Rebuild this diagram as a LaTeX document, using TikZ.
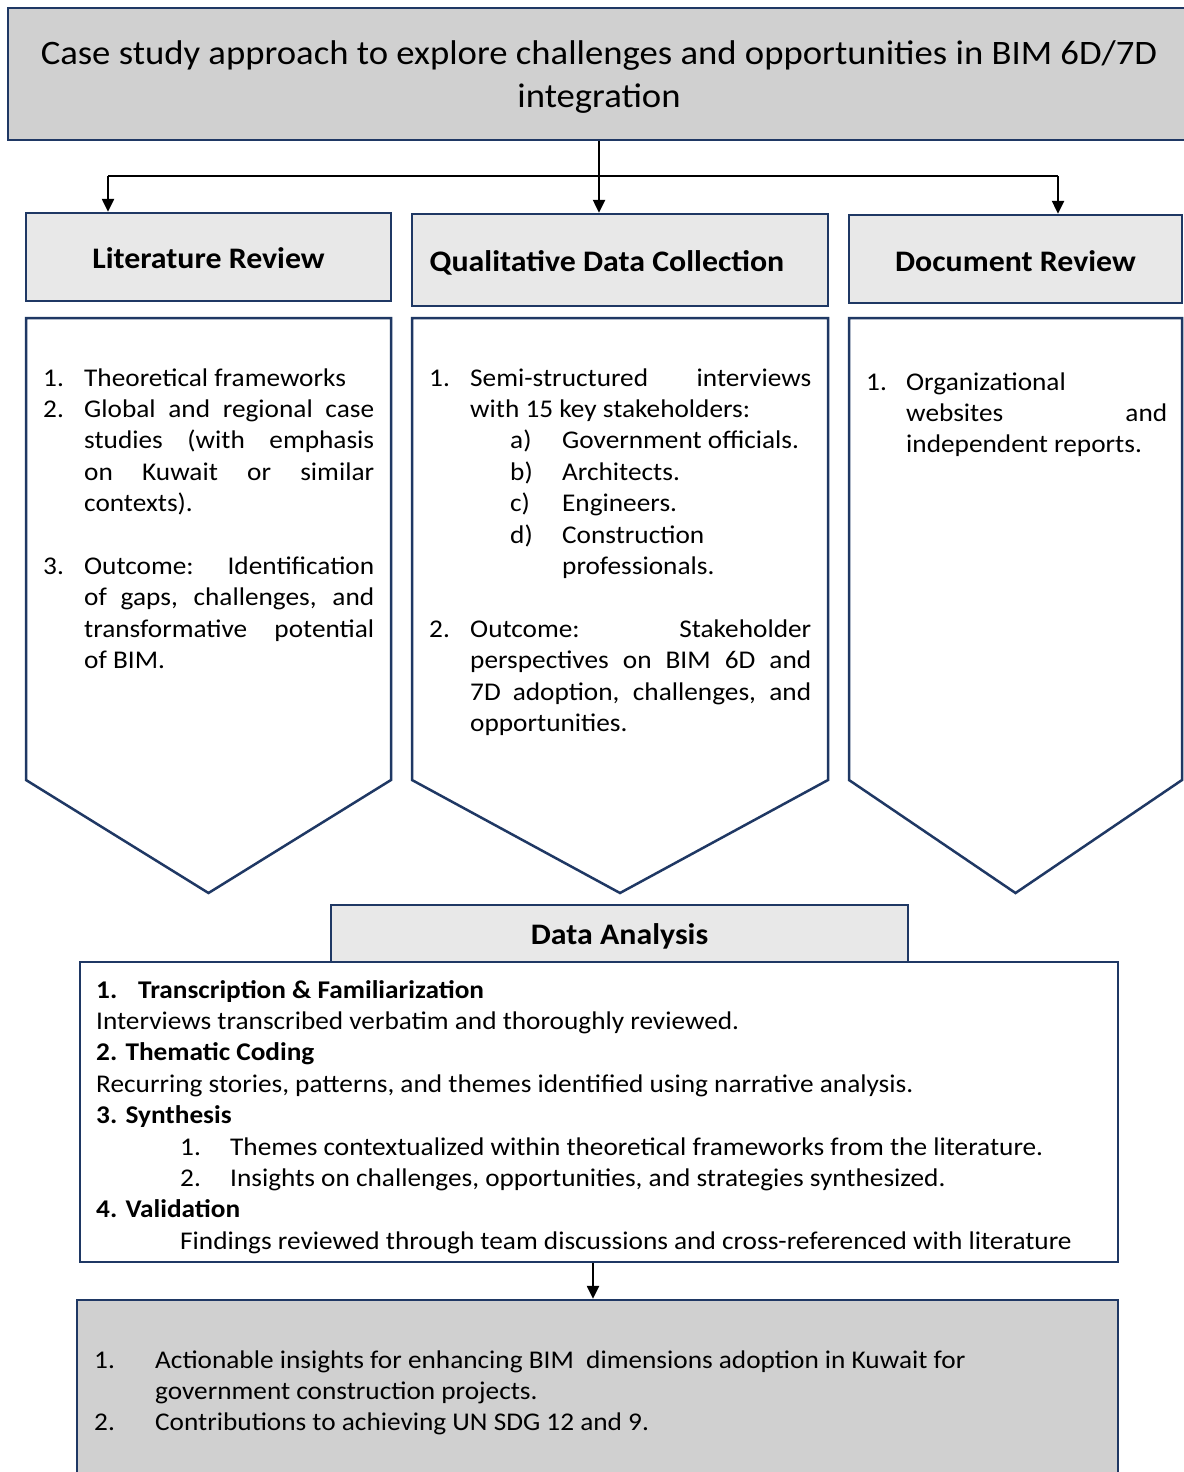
\documentclass[tikz,border=0pt]{standalone}
\usepackage{fontspec}
\setmainfont{Carlito}[FakeStretch=1.07]
\usetikzlibrary{arrows.meta}
\definecolor{navy}{HTML}{1F3864}
\definecolor{dgray}{HTML}{D0D0D0}
\definecolor{lgray}{HTML}{E8E8E8}
\newcommand\bodyfont{\fontsize{25.5}{31.4}\selectfont}
\newcommand\hdrfont{\fontsize{29.8}{36}\selectfont\bfseries}
\newcommand\ttlfont{\fontsize{34.3}{43}\selectfont}
\newcommand\dropby[2]{\raisebox{-#1}[\height][\depth]{#2}}
% numbered line: #1 number width, #2 number, #3 text width, #4 l or s, #5 text
\newcommand\NL[5]{\noindent\makebox[#1][l]{#2}\makebox[#3][#4]{#5}\par}
\newcommand\BL{\noindent\mbox{}\par}
\tikzset{
  frame/.style={draw=navy, line width=2.5pt},
  hdr/.style={frame, fill=lgray, inner sep=0pt, font=\hdrfont, text=black},
  conn/.style={line width=2.5pt, black},
  arr/.style={conn, -{Triangle[length=13pt,width=12pt]}},
  txt/.style={anchor=base west, inner sep=0pt, text=black}
}
\begin{document}
\begin{tikzpicture}[x=1pt,y=-1pt]
\useasboundingbox (0,0) rectangle (1183,1472);
\fill[white] (0,0) rectangle (1183,1472);

% title
\node[frame, fill=dgray, minimum width=1182pt, minimum height=132pt, inner sep=0pt, align=center, font=\ttlfont] (title) at (599,74)
  {\dropby{3pt}{Case study approach to explore challenges and opportunities in BIM 6D/7D}\\\dropby{3pt}{integration}};

% headers
\node[hdr, minimum width=365pt, minimum height=88pt] (lith) at (208.5,257) {\dropby{1.5pt}{Literature Review}};
\node[hdr, minimum width=416pt, minimum height=92pt] (qualh) at (620,260) {\dropby{2.5pt}{Qualitative Data Collection}\hspace*{26pt}};
\node[hdr, minimum width=333pt, minimum height=88pt] (doch) at (1015.5,259) {\dropby{2.5pt}{Document Review}};

% connectors
\coordinate (jl) at (108,176);
\coordinate (jr) at (1058,176);
\draw[conn] (title.south) -- (title.south |- jl);
\draw[conn] (jl) -- (jr);
\draw[arr] (jl) -- (jl |- lith.north);
\draw[arr] (title.south |- jl) -- (title.south |- qualh.north);
\draw[arr] (jr) -- (jr |- doch.north);

% pentagon boxes
\draw[frame, line join=miter] (26,318) coordinate (litp) -- (391,318) -- (391,780) -- (208.5,893) -- (26,780) -- cycle;
\draw[frame, line join=miter] (412,318) coordinate (qualp) -- (828,318) -- (828,780) -- (620,893) -- (412,780) -- cycle;
\draw[frame, line join=miter] (849,318) coordinate (docp) -- (1182,318) -- (1182,780) -- (1015.5,893) -- (849,780) -- cycle;

% column texts
\node[txt] (littxt) at (43,386) {\begin{minipage}[t]{331pt}\bodyfont
\NL{41pt}{1.}{290pt}{l}{Theoretical frameworks}
\NL{41pt}{2.}{290pt}{s}{Global and regional case}
\NL{41pt}{}{290pt}{s}{studies (with emphasis}
\NL{41pt}{}{290pt}{s}{on Kuwait or similar}
\NL{41pt}{}{290pt}{l}{contexts).}
\BL
\NL{41pt}{3.}{290pt}{s}{Outcome: Identification}
\NL{41pt}{}{290pt}{s}{of gaps, challenges, and}
\NL{41pt}{}{290pt}{s}{transformative potential}
\NL{41pt}{}{290pt}{l}{of BIM.}
\end{minipage}};

\node[txt] (qualtxt) at (429,386) {\begin{minipage}[t]{382pt}\bodyfont
\NL{41pt}{1.}{341pt}{s}{Semi-structured interviews}
\NL{41pt}{}{341pt}{l}{with 15 key stakeholders:}
\NL{133pt}{\hspace*{81pt}a)}{249pt}{l}{Government officials.}
\NL{133pt}{\hspace*{81pt}b)}{249pt}{l}{Architects.}
\NL{133pt}{\hspace*{81pt}c)}{249pt}{l}{Engineers.}
\NL{133pt}{\hspace*{81pt}d)}{249pt}{l}{Construction}
\NL{133pt}{}{249pt}{l}{professionals.}
\BL
\NL{41pt}{2.}{341pt}{s}{Outcome: Stakeholder}
\NL{41pt}{}{341pt}{s}{perspectives on BIM 6D and}
\NL{41pt}{}{341pt}{s}{7D adoption, challenges, and}
\NL{41pt}{}{341pt}{l}{opportunities.}
\end{minipage}};

\node[txt] (doctxt) at (866,390) {\begin{minipage}[t]{301pt}\bodyfont
\NL{40pt}{1.}{261pt}{l}{Organizational}
\NL{40pt}{}{261pt}{s}{websites and}
\NL{40pt}{}{261pt}{l}{independent reports.}
\end{minipage}};

% data analysis
\node[frame, fill=white, minimum width=1038pt, minimum height=300pt, inner sep=0pt] (dabox) at (599,1112) {};
\node[hdr, minimum width=577pt, minimum height=57pt] (dah) at (619.5,933.5) {\dropby{3pt}{Data Analysis}};
\node[txt] (datxt) at (96,998) {\begin{minipage}[t]{1010pt}\bodyfont
\NL{42pt}{\bfseries 1.}{900pt}{l}{\bfseries Transcription \& Familiarization}
\NL{0pt}{}{1000pt}{l}{Interviews transcribed verbatim and thoroughly reviewed.}
\NL{0pt}{}{1000pt}{l}{\bfseries 2. Thematic Coding}
\NL{0pt}{}{1000pt}{l}{Recurring stories, patterns, and themes identified using narrative analysis.}
\NL{0pt}{}{1000pt}{l}{\bfseries 3. Synthesis}
\NL{134pt}{\hspace*{84pt}1.}{870pt}{l}{Themes contextualized within theoretical frameworks from the literature.}
\NL{134pt}{\hspace*{84pt}2.}{870pt}{l}{Insights on challenges, opportunities, and strategies synthesized.}
\NL{0pt}{}{1000pt}{l}{\bfseries 4. Validation}
\NL{84pt}{}{920pt}{l}{Findings reviewed through team discussions and cross-referenced with literature}
\end{minipage}};

% result box
\node[frame, fill=dgray, minimum width=1041pt, minimum height=190pt, inner sep=0pt] (res) at (597.5,1395) {};
\coordinate (ax) at (593,0);
\draw[arr] (dabox.south -| ax) -- (res.north -| ax);
\node[txt] (restxt) at (94,1368) {\begin{minipage}[t]{1000pt}\bodyfont
\NL{61pt}{1.}{900pt}{l}{Actionable insights for enhancing BIM\ \ dimensions adoption in Kuwait for}
\NL{61pt}{}{900pt}{l}{government construction projects.}
\NL{61pt}{2.}{900pt}{l}{Contributions to achieving UN SDG 12 and 9.}
\end{minipage}};
\end{tikzpicture}
\end{document}
